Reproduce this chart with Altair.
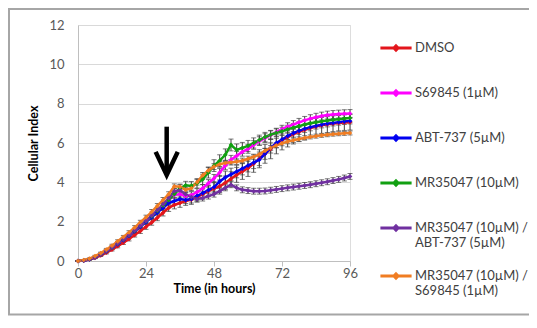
import altair as alt
import pandas as pd

# ---------------- data ----------------
hours = list(range(0, 97, 2))

series_names = [
    "DMSO",
    "S69845 (1µM)",
    "ABT-737 (5µM)",
    "MR35047 (10µM)",
    "MR35047 (10µM) / ABT-737 (5µM)",
    "MR35047 (10µM) / S69845 (1µM)",
]
series_colors = ["#E3161C", "#FF00FF", "#0000F0", "#12A012", "#7030A0", "#F07D23"]

dmso = [0, 0.02, 0.08, 0.16, 0.28, 0.42, 0.58, 0.75, 0.93, 1.12, 1.32, 1.52, 1.74, 1.96, 2.2, 2.45,
        2.7, 2.85, 2.95, 3.05, 3.12, 3.25, 3.4, 3.55, 3.68, 3.8, 3.98, 4.18, 4.38, 4.55, 4.72, 4.95,
        5.2, 5.45, 5.7, 5.95, 6.15, 6.3, 6.45, 6.57, 6.67, 6.76, 6.84, 6.9, 6.95, 6.99, 7.02, 7.04, 7.06]
s69845 = [0, 0.03, 0.1, 0.2, 0.35, 0.52, 0.7, 0.9, 1.1, 1.32, 1.55, 1.8, 2.05, 2.3, 2.55, 2.8,
          3.1, 3.35, 3.4, 3.3, 3.35, 3.5, 3.7, 3.95, 4.2, 4.5, 4.85, 5.15, 5.35, 5.55, 5.7, 5.9,
          6.1, 6.25, 6.4, 6.55, 6.7, 6.83, 6.94, 7.05, 7.15, 7.24, 7.31, 7.37, 7.42, 7.45, 7.47, 7.49, 7.5]
abt737 = [0, 0.02, 0.08, 0.18, 0.32, 0.48, 0.66, 0.85, 1.05, 1.27, 1.5, 1.74, 1.98, 2.22, 2.46, 2.7,
          2.95, 3.05, 3.15, 3.1, 3.15, 3.3, 3.45, 3.6, 3.75, 4.05, 4.25, 4.4, 4.55, 4.7, 4.85, 5.0,
          5.15, 5.45, 5.75, 6.0, 6.18, 6.35, 6.5, 6.62, 6.72, 6.8, 6.87, 6.93, 6.98, 7.02, 7.06, 7.09, 7.12]
mr35047 = [0, 0.03, 0.1, 0.2, 0.34, 0.5, 0.68, 0.88, 1.08, 1.3, 1.53, 1.78, 2.02, 2.28, 2.55, 2.82,
           3.1, 3.4, 3.7, 3.85, 3.82, 3.95, 4.15, 4.5, 4.85, 5.1, 5.4, 5.9, 5.65, 5.75, 5.85, 6.0,
           6.15, 6.3, 6.42, 6.52, 6.6, 6.7, 6.78, 6.86, 6.94, 7.0, 7.05, 7.1, 7.14, 7.18, 7.21, 7.24, 7.27]
mr_abt = [0, 0.02, 0.09, 0.19, 0.33, 0.5, 0.68, 0.88, 1.08, 1.3, 1.54, 1.78, 2.03, 2.3, 2.58, 2.88,
          3.2, 3.55, 3.6, 3.38, 3.25, 3.15, 3.2, 3.3, 3.4, 3.55, 3.72, 3.88, 3.72, 3.62, 3.58, 3.55,
          3.55, 3.56, 3.6, 3.64, 3.68, 3.72, 3.76, 3.8, 3.84, 3.88, 3.93, 3.98, 4.03, 4.09, 4.15, 4.22, 4.3]
mr_s69 = [0, 0.05, 0.12, 0.25, 0.4, 0.58, 0.78, 1.0, 1.22, 1.45, 1.7, 1.97, 2.22, 2.5, 2.8, 3.1,
          3.4, 3.8, 3.78, 3.62, 3.7, 4.0, 4.35, 4.6, 4.8, 4.92, 4.98, 5.02, 5.05, 5.1, 5.2, 5.3,
          5.42, 5.6, 5.75, 5.88, 5.98, 6.07, 6.14, 6.2, 6.26, 6.31, 6.35, 6.39, 6.42, 6.45, 6.47, 6.49, 6.51]

sd_early = [0, 0.02, 0.03, 0.04, 0.05, 0.06, 0.07, 0.08, 0.08, 0.09, 0.1, 0.1, 0.11, 0.12, 0.12, 0.13]
sd_dmso = [0, 0.02, 0.03, 0.04, 0.05, 0.06, 0.07, 0.08, 0.09, 0.1, 0.1, 0.12, 0.13, 0.14, 0.15, 0.16,
           0.18, 0.2, 0.22, 0.22, 0.24, 0.25, 0.26, 0.28, 0.3, 0.32, 0.34, 0.36, 0.38, 0.4, 0.42, 0.44,
           0.46, 0.48, 0.5, 0.5, 0.5, 0.5, 0.5, 0.5, 0.5, 0.48, 0.46, 0.45, 0.44, 0.42, 0.4, 0.4, 0.4]
sd_s69845 = sd_early + [0.14, 0.15, 0.16, 0.16, 0.17, 0.18, 0.18, 0.19, 0.2, 0.2, 0.21, 0.22, 0.22, 0.22, 0.22,
                        0.22, 0.22, 0.22, 0.22, 0.2, 0.2, 0.2, 0.2, 0.2, 0.2, 0.2, 0.2, 0.2, 0.2, 0.2,
                        0.2, 0.2, 0.2]
sd_abt737 = sd_early + [0.14, 0.15, 0.16, 0.18, 0.2, 0.22, 0.24, 0.26, 0.28, 0.3, 0.32, 0.32, 0.32, 0.32, 0.32,
                        0.3, 0.3, 0.28, 0.26, 0.24, 0.22, 0.2, 0.2, 0.18, 0.18, 0.18, 0.16, 0.16, 0.16, 0.15,
                        0.15, 0.15, 0.15]
sd_mr35047 = sd_early + [0.15, 0.16, 0.18, 0.2, 0.22, 0.24, 0.26, 0.28, 0.3, 0.3, 0.3, 0.3, 0.3, 0.28, 0.28,
                         0.26, 0.25, 0.24, 0.22, 0.2, 0.2, 0.2, 0.2, 0.2, 0.2, 0.2, 0.2, 0.2, 0.2, 0.2,
                         0.2, 0.2, 0.2]
sd_mr_abt = sd_early + [0.12, 0.13, 0.14, 0.14, 0.14, 0.14, 0.15, 0.15, 0.15, 0.15, 0.15, 0.15, 0.15, 0.15, 0.15,
                        0.15, 0.15, 0.15, 0.15, 0.15, 0.15, 0.15, 0.15, 0.15, 0.15, 0.15, 0.15, 0.15, 0.15, 0.15,
                        0.15, 0.15, 0.15]
sd_mr_s69 = sd_early + [0.12, 0.12, 0.13, 0.13, 0.14, 0.14, 0.15, 0.15, 0.15, 0.15, 0.14, 0.14, 0.14, 0.13, 0.13,
                        0.13, 0.12, 0.12, 0.12, 0.12, 0.12, 0.11, 0.11, 0.11, 0.11, 0.1, 0.1, 0.1, 0.1, 0.1,
                        0.1, 0.1, 0.1]

x_ticks = [0, 24, 48, 72, 96]
y_ticks = [0, 2, 4, 6, 8, 10, 12]

arrow_hours = [27.4, 31.3, 35.2]
arrow_head = [5.55, 4.37, 5.55]
arrow_shaft = [4.5, 6.83]

all_values = [dmso, s69845, abt737, mr35047, mr_abt, mr_s69]
all_sds = [sd_dmso, sd_s69845, sd_abt737, sd_mr35047, sd_mr_abt, sd_mr_s69]

rows = []
for i, (name, vals, sds) in enumerate(zip(series_names, all_values, all_sds)):
    for t, v, s in zip(hours, vals, sds):
        rows.append({"t": t, "v": v, "lo": v - s, "hi": v + s, "series": name, "k": i})
df = pd.DataFrame(rows)

head_df = pd.DataFrame({"t": arrow_hours, "v": arrow_head})
shaft_df = pd.DataFrame({"t": [arrow_hours[1]], "v1": [arrow_shaft[0]], "v2": [arrow_shaft[1]]})

# ---------------- chart ----------------
FONT = "Lato"
W, H = 272, 236

xscale = alt.Scale(domain=[0, 96], nice=False, zero=False)
yscale = alt.Scale(domain=[0, 12], nice=False)

x_axis = alt.Axis(values=x_ticks, grid=False, title="Time (in hours)", domainColor="#BFBFBF",
                  tickColor="#BFBFBF", tickSize=5, labelFont=FONT, labelFontSize=13,
                  labelColor="#595959", labelPadding=1, labelOverlap=False, titleFont=FONT,
                  titleFontSize=12.5, titleFontWeight="bold", titleColor="#000000", titlePadding=2,
                  labelFlush=False)
y_axis = alt.Axis(values=y_ticks, tickCount=7, grid=True, gridColor="#D9D9D9", ticks=False,
                  title="Cellular Index", domainColor="#BFBFBF", labelFont=FONT, labelFontSize=13,
                  labelColor="#595959", labelPadding=14, labelOverlap=False, titleFont=FONT,
                  titleFontSize=12.5, titleFontWeight="bold", titleColor="#000000", titlePadding=8)

X = alt.X("t:Q", scale=xscale, axis=x_axis)

symbol_path = ("M0,-1.1L0,-1.1 M0,1.1L0,1.1 "
               "M-1,-0.06L1,-0.06L1,0.06L-1,0.06Z M0,-0.22L0.22,0L0,0.22L-0.22,0Z")
label_expr = ("indexof(datum.label, ' / ') > 0 ? "
              "[slice(datum.label, 0, indexof(datum.label, ' / ') + 2), "
              "slice(datum.label, indexof(datum.label, ' / ') + 3)] : datum.label")

legend = alt.Legend(orient="none", legendX=302, legendY=7, title=None, symbolType=symbol_path,
                    symbolSize=900, symbolStrokeWidth=1.2, labelFont=FONT, labelFontSize=13,
                    labelColor="#404040", rowPadding=7, labelOffset=3, labelLimit=300,
                    labelExpr=label_expr, padding=0)

color = alt.Color("series:N", scale=alt.Scale(domain=series_names, range=series_colors),
                  sort=series_names, legend=legend)

base = alt.Chart(df)

# chart frame (left, top, bottom edges)
frame_src = alt.Chart(pd.DataFrame({"a": [0]}))
frame_left = frame_src.mark_rule(color="#A6A6A6", strokeWidth=2, clip=False).encode(
    x=alt.value(-69), y=alt.value(-16), y2=alt.value(290))
frame_top = frame_src.mark_rule(color="#A6A6A6", strokeWidth=2, clip=False).encode(
    x=alt.value(-70), x2=alt.value(460), y=alt.value(-16))
frame_bottom = frame_src.mark_rule(color="#A6A6A6", strokeWidth=2, clip=False).encode(
    x=alt.value(-70), x2=alt.value(460), y=alt.value(289.5))

err = base.mark_rule(color="#404040", strokeWidth=1).encode(
    x=X, y=alt.Y("lo:Q", scale=yscale, axis=y_axis), y2="hi:Q")
cap_lo = base.mark_tick(orient="horizontal", size=5, thickness=1, color="#404040").encode(
    x=X, y=alt.Y("lo:Q", scale=yscale, axis=y_axis))
cap_hi = base.mark_tick(orient="horizontal", size=5, thickness=1, color="#404040").encode(
    x=X, y=alt.Y("hi:Q", scale=yscale, axis=y_axis))

lines = base.mark_line(strokeWidth=2.5, point=alt.OverlayMarkDef(shape="diamond", size=22, filled=True)).encode(
    x=X, y=alt.Y("v:Q", scale=yscale, axis=y_axis), color=color, order="t:Q")

shaft = alt.Chart(shaft_df).mark_rule(color="black", strokeWidth=4.5).encode(
    x=X, y=alt.Y("v1:Q", scale=yscale, axis=y_axis), y2="v2:Q")
head = alt.Chart(head_df).mark_line(color="black", strokeWidth=4.5, strokeJoin="miter").encode(
    x=X, y=alt.Y("v:Q", scale=yscale, axis=y_axis))

chart = alt.layer(frame_left, frame_top, frame_bottom, err, cap_lo, cap_hi, lines, shaft, head).properties(
    width=W, height=H,
    padding={"left": 70, "top": 17, "right": 179, "bottom": 55},
    autosize=alt.AutoSizeParams(type="none"),
).configure_view(strokeWidth=0).configure(background="white")

chart.save("out.html", embed_options={"renderer": "svg", "actions": False})
